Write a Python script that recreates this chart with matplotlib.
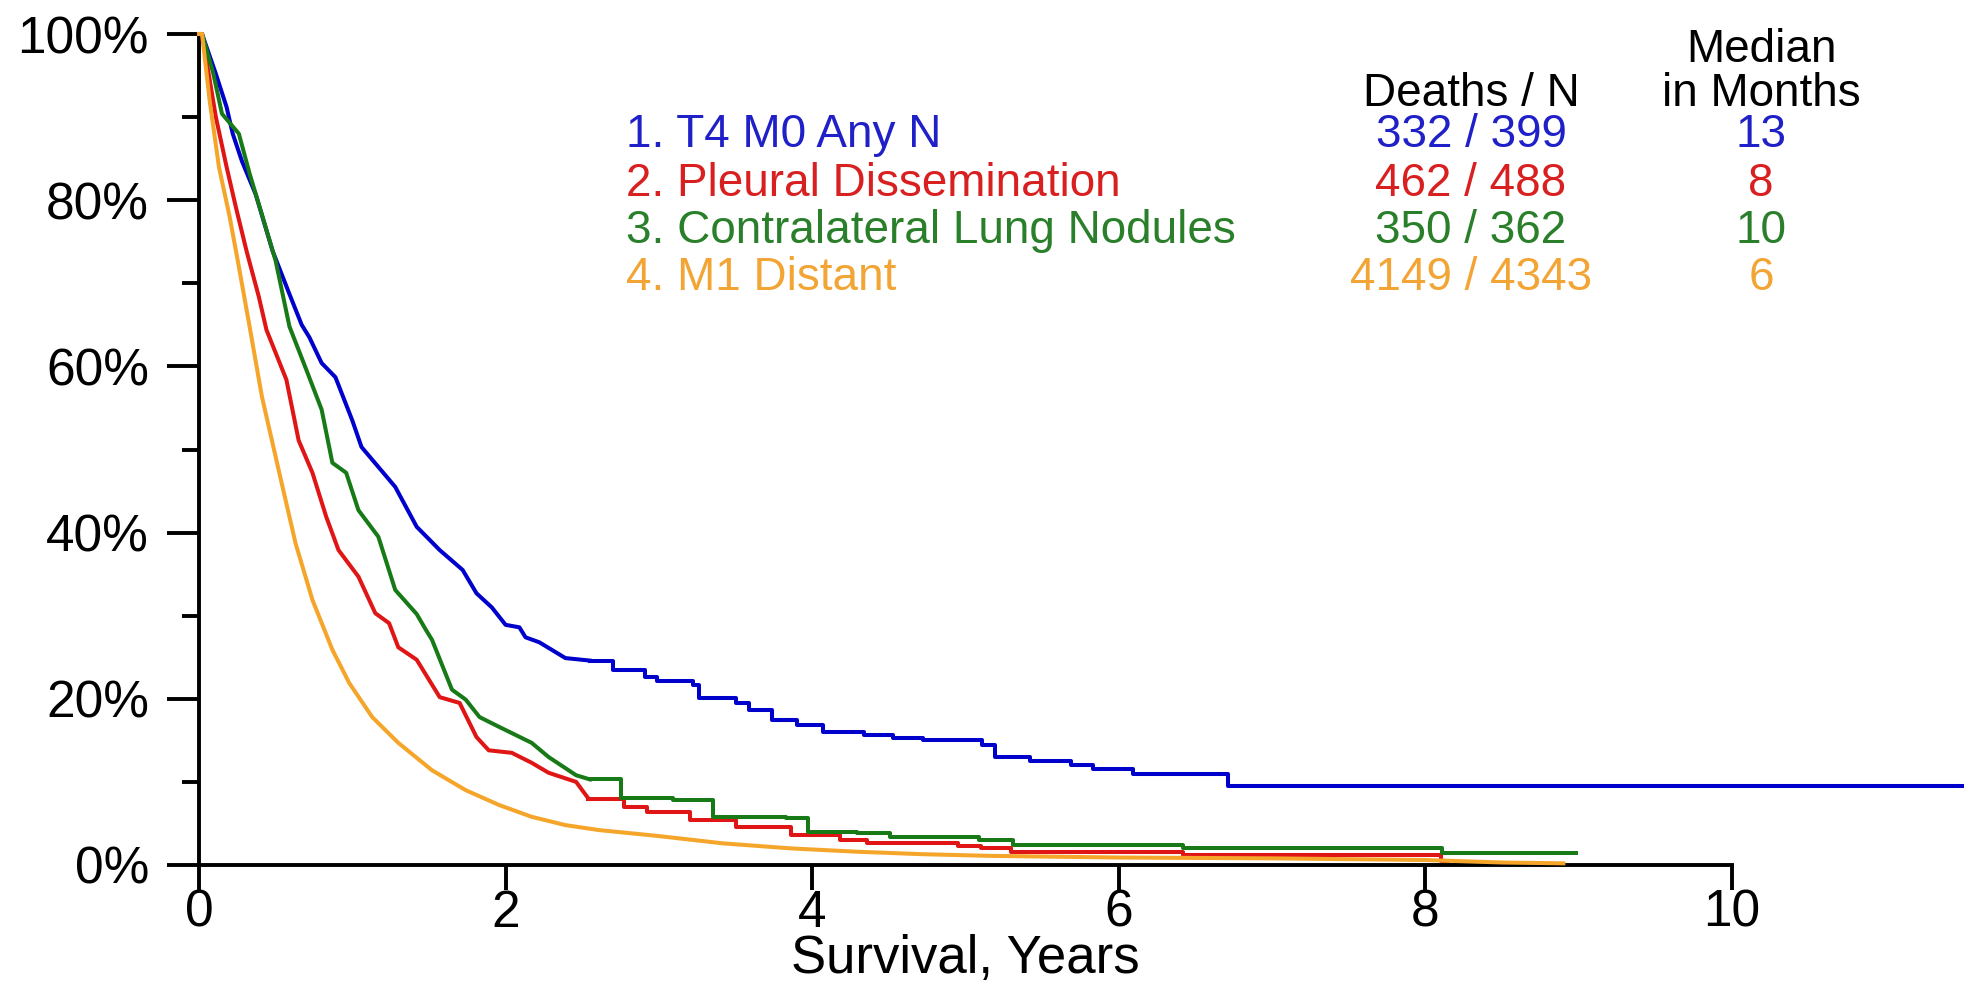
import numpy as np
import matplotlib.pyplot as plt
import matplotlib.transforms as mtransforms

# survival curves, read as (years, percent surviving)
labels = ["1. T4 M0 Any N", "2. Pleural Dissemination",
          "3. Contralateral Lung Nodules", "4. M1 Distant"]
deaths = [332, 462, 350, 4149]
totals = [399, 488, 362, 4343]
medians = [13, 8, 10, 6]
line_colors = ["#0000CC", "#E01515", "#177A17", "#F5A52A"]
text_colors = ["#2020C8", "#D82020", "#2A7F2A", "#F2A535"]

# early, densely censored part of each curve (drawn as a line)
t4_t = [0, 0.02, 0.11, 0.18, 0.22, 0.28, 0.37, 0.48, 0.59, 0.67, 0.72, 0.80, 0.89,
        1.00, 1.06, 1.17, 1.28, 1.42, 1.57, 1.72, 1.81, 1.91, 2.00, 2.09, 2.13,
        2.22, 2.39, 2.55]
t4_s = [100, 100, 95.2, 91.2, 88.0, 84.7, 80.7, 73.9, 68.7, 65.0, 63.5, 60.4, 58.7,
        53.5, 50.3, 47.9, 45.5, 40.7, 37.9, 35.5, 32.7, 31.0, 28.9, 28.6, 27.4,
        26.8, 24.9, 24.6]
pl_t = [0, 0.02, 0.11, 0.18, 0.24, 0.31, 0.39, 0.44, 0.57, 0.65, 0.74, 0.83, 0.91,
        1.04, 1.11, 1.15, 1.24, 1.30, 1.42, 1.57, 1.70, 1.81, 1.89, 2.04, 2.17,
        2.28, 2.46, 2.54]
pl_s = [100, 100, 90.0, 84.0, 79.2, 73.9, 68.4, 64.4, 58.4, 51.1, 47.2, 41.9, 37.9,
        34.7, 31.9, 30.3, 29.1, 26.2, 24.7, 20.2, 19.5, 15.4, 13.8, 13.5, 12.3,
        11.1, 10.0, 8.0]
cl_t = [0, 0.02, 0.09, 0.15, 0.26, 0.33, 0.41, 0.50, 0.59, 0.70, 0.80, 0.87, 0.96,
        1.04, 1.17, 1.28, 1.42, 1.48, 1.52, 1.65, 1.74, 1.83, 1.96, 2.17, 2.28,
        2.46, 2.55]
cl_s = [100, 100, 95.5, 90.4, 88.0, 83.2, 78.3, 72.7, 64.8, 59.6, 54.8, 48.4, 47.2,
        42.7, 39.5, 33.1, 30.2, 28.3, 27.1, 21.1, 19.9, 17.8, 16.6, 14.7, 13.0,
        10.8, 10.3]
m1_t = [0, 0.02, 0.07, 0.13, 0.20, 0.26, 0.33, 0.41, 0.52, 0.63, 0.74, 0.87, 0.98,
        1.13, 1.30, 1.52, 1.74, 1.96, 2.17, 2.39, 2.61, 2.99, 3.42, 3.86, 4.29,
        4.72, 5.16, 6.0, 7.0, 8.0, 8.5, 8.9]
m1_s = [100, 100, 91.9, 84.0, 78.0, 72.0, 64.8, 56.4, 47.5, 38.7, 31.9, 25.9, 21.9,
        17.8, 14.7, 11.4, 9.0, 7.2, 5.8, 4.8, 4.2, 3.5, 2.6, 2.0, 1.6,
        1.3, 1.1, 0.9, 0.8, 0.6, 0.3, 0.2]

# later part, where single deaths show as steps
t4_step_t = [2.55, 2.70, 2.91, 2.99, 3.22, 3.26, 3.50, 3.59, 3.74, 3.90, 4.07, 4.34,
             4.53, 4.72, 5.11, 5.19, 5.42, 5.69, 5.83, 6.09, 6.71, 11.5]
t4_step_s = [24.6, 23.5, 22.6, 22.1, 21.7, 20.1, 19.5, 18.7, 17.4, 16.8, 16.0, 15.6,
             15.3, 15.0, 14.4, 13.0, 12.5, 12.0, 11.5, 11.0, 9.5, 9.5]
pl_step_t = [2.54, 2.77, 2.92, 3.20, 3.50, 3.86, 4.18, 4.36, 4.95, 5.10, 5.30, 6.42,
             8.10, 8.15]
pl_step_s = [8.0, 7.0, 6.4, 5.4, 4.6, 3.6, 3.0, 2.6, 2.3, 2.0, 1.6, 1.2, 0.5, 0.5]
cl_step_t = [2.55, 2.75, 3.09, 3.35, 3.83, 3.97, 4.29, 4.51, 5.09, 5.31, 6.42, 8.11,
             8.98]
cl_step_s = [10.3, 8.1, 7.8, 5.8, 5.6, 4.0, 3.8, 3.4, 3.0, 2.4, 2.0, 1.4, 1.4]

curves = [(t4_t, t4_s, t4_step_t, t4_step_s),
          (pl_t, pl_s, pl_step_t, pl_step_s),
          (cl_t, cl_s, cl_step_t, cl_step_s),
          (m1_t, m1_s, [], [])]

W, H = 1975, 985
fig = plt.figure(figsize=(W / 100, H / 100), dpi=100)
plt.rcParams['font.family'] = ['Liberation Sans', 'DejaVu Sans']

x_max = 11.55
ax = fig.add_axes([199 / W, 1 - 865 / H, x_max * 153.3 / W, (865 - 34) / H])

for (t, s, st, ss), c in zip(curves, line_colors):
    ax.plot(t, s, color=c, lw=2.9, zorder=3, clip_on=False)
    if st:
        ax.plot(st, ss, color=c, lw=2.9, zorder=3, clip_on=False,
                drawstyle='steps-post')

ax.set_xlim(0, x_max)
ax.set_ylim(0, 100)
for side in ['top', 'right']:
    ax.spines[side].set_visible(False)
ax.spines['left'].set_bounds(0, 100)
ax.spines['bottom'].set_bounds(0, 10)
for side in ['left', 'bottom']:
    ax.spines[side].set_linewidth(2.8)
    ax.spines[side].set_zorder(2)

ax.set_xticks([0, 2, 4, 6, 8, 10])
ax.set_yticks([0, 20, 40, 60, 80, 100])
ax.set_yticklabels(["{}%".format(v) for v in [0, 20, 40, 60, 80, 100]])
ax.set_yticks([10, 30, 50, 70, 90], minor=True)
ax.tick_params(axis='y', which='major', length=23, width=2.8, pad=13, labelsize=37)
ax.tick_params(axis='y', which='minor', length=12, width=2.8)
ax.tick_params(axis='x', which='major', length=18, width=2.8, pad=-1, labelsize=37)

# axis title sits under the middle of the 0-10 span
trans = mtransforms.blended_transform_factory(ax.transData, fig.transFigure)
ax.text(5, 12 / H, "Survival, Years", transform=trans, ha='center', va='baseline',
        fontsize=38)

# group table above the curves
def fy(py):
    return 1 - py / H

legend_x = 626 / W
slash_x = 1471 / W
median_x = 1761 / W
row_base = [147, 196, 243, 290]

fig.text(slash_x, fy(106), "Deaths / N", ha='center', va='baseline', fontsize=33)
fig.text(median_x, fy(62), "Median", ha='center', va='baseline', fontsize=33)
fig.text(median_x, fy(106), "in Months", ha='center', va='baseline', fontsize=33)
for i in range(4):
    fig.text(legend_x, fy(row_base[i]), labels[i], color=text_colors[i],
             ha='left', va='baseline', fontsize=33)
    fig.text(slash_x, fy(row_base[i]), "{} / {}".format(deaths[i], totals[i]),
             color=text_colors[i], ha='center', va='baseline', fontsize=33)
    fig.text(median_x, fy(row_base[i]), str(medians[i]), color=text_colors[i],
             ha='center', va='baseline', fontsize=33)

fig.savefig("out.png", dpi=100)
